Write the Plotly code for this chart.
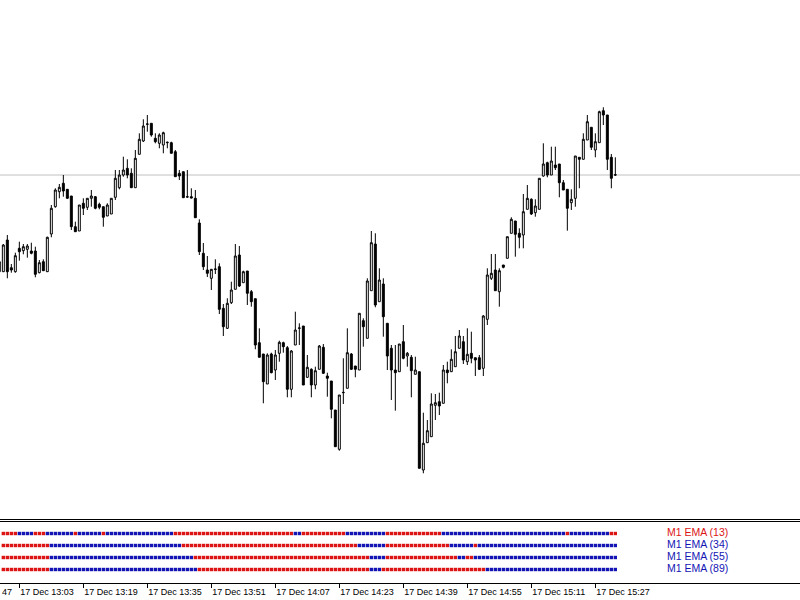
import pandas as pd
import plotly.graph_objects as go

# ---------------- data ----------------
first_bar = "2013-12-17 12:58"

open_ = [
    328.3, 328.3, 360, 332.3, 328.3, 351.7, 349.3, 350.7, 349, 349,
    327.3, 338.3, 328.3, 366, 393.3, 408.3, 416.7, 410.7, 404, 373.3,
    369, 396.7, 392.7, 401.7, 403.3, 395.7, 393.3, 384, 386, 402.7,
    412.3, 425, 431.7, 426.7, 412.3, 445.7, 459, 475.7, 476.7, 461.7,
    456.7, 455, 457.3, 457.3, 448.3, 426.7, 428.3, 403.3, 403.3, 401.7,
    377, 346.7, 330, 321.7, 330.5, 333.3, 291.7, 271.7, 297.3, 310.7,
    345, 317.3, 329, 308.3, 301.3, 257.3, 246, 216, 246, 230,
    246.7, 257.3, 252.3, 210.7, 255, 271.7, 274, 222.7, 230.7, 215,
    230.7, 252.7, 224, 219, 190, 150.7, 207.3, 211.7, 246, 234,
    230, 279.3, 261.7, 309.3, 356, 298.3, 316, 276.7, 251.7, 230,
    228.3, 258.3, 244, 242.7, 225.7, 228.3, 130, 157.3, 163.3, 194.7,
    198.3, 196.7, 230, 228.3, 233.3, 251.7, 258.3, 238.3, 246.7, 242.3,
    242.3, 231.7, 280.7, 321.7, 330, 308.3, 335, 341.7, 366.7, 379,
    366.7, 365, 390.7, 400.7, 387.3, 390.7, 424, 437.3, 425, 435,
    436, 417.3, 410.7, 397.3, 401.7, 442.7, 440.7, 460, 472.7, 450,
    457.3, 489.3, 485, 442.7, 425.3,
]
high = [
    340, 356, 365, 336, 347.3, 358.3, 356, 356, 357.3, 353.3,
    340, 340.7, 363.3, 395, 411.7, 416, 425, 411, 404, 378.3,
    395, 401.7, 401.7, 410, 404, 397.3, 393.3, 396.7, 401.7, 430,
    430, 443.3, 440.7, 431.7, 450, 466.7, 480.7, 485, 476.7, 466.7,
    466.7, 468.3, 458.3, 458.3, 450, 430, 428.3, 430, 411.7, 410,
    380.7, 357, 344, 331, 340.7, 336.7, 296, 301.7, 318.3, 356,
    354, 329.3, 329, 310, 301.3, 271.7, 246, 246.7, 247.3, 250,
    259.3, 258.3, 254, 250, 288.3, 276.7, 274, 245, 231.7, 233.3,
    255, 256, 227.3, 219, 190, 205, 241.7, 271.7, 247, 234,
    286.7, 281.7, 321.7, 369, 366.7, 331.7, 321.7, 276.7, 255, 255,
    256, 275, 248, 245, 243.3, 228.3, 187.3, 180, 206.7, 206,
    207.3, 235, 238.3, 250.7, 264, 270, 264, 271.7, 268.3, 242.3,
    245, 285, 331.7, 346, 346, 331.7, 335, 363.3, 382.7, 379,
    371.7, 406, 415, 401.7, 400.7, 421.7, 456.7, 438.3, 453.3, 453.3,
    436, 420, 410.7, 410.7, 444, 442.7, 466.7, 485, 472.7, 466.7,
    489.3, 492.7, 485, 446, 442.7,
]
low = [
    327, 328, 321.7, 327.3, 327.3, 339.3, 345.7, 342.3, 345.7, 322.7,
    326.7, 329, 328, 362.7, 392.3, 401.7, 403.3, 401, 370, 368,
    369, 385, 390, 393.3, 390.7, 390.7, 373.3, 384, 386, 400,
    410.7, 423.3, 421.7, 412.3, 412.3, 445.7, 458, 468.3, 463.3, 456.7,
    451.7, 446.7, 451.7, 446.7, 423.3, 420, 402.3, 402.3, 401.7, 382.3,
    345, 330, 323, 310, 326, 286, 264, 271, 296, 310.7,
    313, 317.3, 295, 293.3, 250.7, 242.7, 196.7, 216, 226.7, 220,
    238.3, 247.3, 202.7, 202.7, 255, 255, 215, 222, 202.7, 210.7,
    230.7, 226, 203.3, 181.7, 153.3, 149.3, 196, 211.7, 230, 222.7,
    230, 253.3, 261.7, 309.3, 292.7, 298.3, 263.3, 230, 200, 189.3,
    228.3, 240.7, 233.3, 202.7, 225.7, 131.7, 126.7, 157, 163, 180,
    185, 196.7, 216.7, 228, 233, 251.7, 236, 235, 236.7, 224,
    230, 224, 275, 320, 309.3, 293.3, 331.7, 341.7, 366.7, 343.3,
    351.7, 351.7, 390.7, 385, 383.3, 390.7, 423.3, 422.7, 425, 430,
    402.7, 410, 369.3, 390, 393.3, 411.7, 440.7, 460, 450, 442.7,
    457.3, 475, 430, 411.7, 424,
]
close = [
    338.3, 355, 328.3, 330, 344.3, 348.3, 353.3, 354, 346.7, 325.7,
    337.3, 329.3, 362.7, 391.7, 410, 412.7, 409, 401.7, 373.3, 368.3,
    395, 391.7, 401.7, 404, 391.7, 392.7, 382.7, 395, 401.7, 421.7,
    425, 430, 425, 412.3, 441.7, 460.7, 474, 476, 465, 458.3,
    465, 467.3, 457.7, 446.7, 423.3, 424, 402.3, 403, 402, 382.3,
    348.3, 333.3, 326.7, 330.7, 331, 290.7, 273.3, 296.7, 310, 344,
    314, 328.3, 306.7, 298.3, 255, 242.7, 218.3, 245, 227.3, 245,
    257.7, 253.3, 210.7, 249, 270, 272, 215, 232.7, 215, 229.3,
    254, 226.7, 221.7, 190.7, 153.3, 205, 207.6, 247.3, 230.7, 230.7,
    286.7, 273.3, 319, 357.3, 295, 320, 283.3, 244, 230, 227.3,
    256, 241.7, 246.7, 229.3, 230, 131.7, 156.7, 169.3, 196, 197.3,
    194, 230, 227.3, 240.7, 248.3, 264, 240, 245.7, 241.7, 240,
    230.7, 284, 325, 326.7, 309.3, 329.3, 332.7, 363.3, 380.7, 365.7,
    362.7, 388.3, 401.7, 386, 394, 421.7, 436, 425, 439, 432.3,
    417.3, 410, 391.7, 400.7, 444, 440.7, 460.7, 478.3, 452.7, 458.3,
    488.3, 485, 440.7, 421.7, 425,
]

# indicator rows: runs of (state, number of bars), r = red (down), b = blue (up)
ema_labels = ["M1 EMA (13)", "M1 EMA (34)", "M1 EMA (55)", "M1 EMA (89)"]
ema13_runs = [("r", 4), ("b", 4), ("r", 3), ("b", 7), ("r", 1), ("b", 6), ("r", 1),
              ("b", 17), ("r", 30), ("b", 2), ("r", 11), ("b", 10), ("r", 14),
              ("b", 31), ("r", 1), ("b", 10), ("r", 2)]
ema34_runs = [("r", 12), ("b", 33), ("r", 44), ("b", 7), ("r", 16), ("b", 6),
              ("r", 1), ("b", 35)]
ema55_runs = [("r", 12), ("b", 36), ("r", 44), ("b", 4), ("r", 18), ("b", 2),
              ("r", 2), ("b", 36)]
ema89_runs = [("r", 12), ("b", 37), ("r", 43), ("b", 3), ("r", 26), ("b", 33)]

tick_times = ["13:03", "13:19", "13:35", "13:51", "14:07", "14:23", "14:39",
              "14:55", "15:11", "15:27"]
cut_label = "47"   # visible tail of the previous time label "17 Dec 12:47"

# ---------------- styling ----------------
RED = "#DC1414"
BLUE = "#1414B4"
FONT = "Liberation Sans, Arial, sans-serif"
W, H = 800, 600

times = pd.date_range(first_bar, periods=len(open_), freq="min")
day = times[0].strftime("%Y-%m-%d")

fig = go.Figure()

fig.add_trace(go.Candlestick(
    x=times, open=open_, high=high, low=low, close=close,
    increasing=dict(line=dict(color="black", width=1), fillcolor="white"),
    decreasing=dict(line=dict(color="black", width=1), fillcolor="black"),
    whiskerwidth=0, hoverinfo="skip", showlegend=False,
    xaxis="x", yaxis="y",
))

all_runs = [ema13_runs, ema34_runs, ema55_runs, ema89_runs]
row_levels = [4, 3, 2, 1]
dot_times = times[1:]
for runs, lvl, name in zip(all_runs, row_levels, ema_labels):
    states = []
    for s, n in runs:
        states += [s] * n
    cols = [RED if s == "r" else BLUE for s in states]
    fig.add_trace(go.Scatter(
        x=dot_times[:len(cols)], y=[lvl] * len(cols), mode="markers",
        marker=dict(symbol="square", size=3.4, color=cols, line=dict(width=0)),
        hoverinfo="skip", showlegend=False, xaxis="x", yaxis="y2", name=name,
    ))
    fig.add_annotation(
        x=665 / W, xref="paper", xanchor="left",
        y=lvl, yref="y2", yanchor="middle", yshift=2,
        text=name, showarrow=False,
        font=dict(family=FONT, size=10.5, color=RED if states[-1] == "r" else BLUE),
    )

# partially visible previous time label at the left edge
fig.add_annotation(
    x=0, xref="paper", xanchor="left",
    y=1 - 592 / H, yref="paper", yanchor="middle",
    text=cut_label, showarrow=False,
    font=dict(family=FONT, size=9, color="black"),
)

t0 = times[0] + pd.Timedelta(seconds=10)
t1 = t0 + pd.Timedelta(minutes=200)

shapes = [
    dict(type="line", xref="paper", x0=0, x1=1, yref="y", y0=close[-1], y1=close[-1],
         line=dict(color="#C0C0C0", width=1), layer="below"),
    dict(type="line", xref="paper", x0=0, x1=1, yref="paper",
         y0=1 - 519.5 / H, y1=1 - 519.5 / H, line=dict(color="black", width=1)),
    dict(type="line", xref="paper", x0=0, x1=1, yref="paper",
         y0=1 - 521.5 / H, y1=1 - 521.5 / H, line=dict(color="black", width=1)),
]

fig.update_layout(
    width=W, height=H,
    margin=dict(l=0, r=0, t=0, b=0),
    paper_bgcolor="white", plot_bgcolor="white",
    showlegend=False,
    shapes=shapes,
    xaxis=dict(
        domain=[0, 1], anchor="y2", type="date",
        range=[t0, t1],
        rangeslider=dict(visible=False),
        showgrid=False, zeroline=False,
        showline=True, linecolor="black", linewidth=1,
        ticks="outside", ticklen=4, tickcolor="black", tickwidth=1,
        tickvals=[pd.Timestamp(f"{day} {t}") for t in tick_times],
        tickformat="%d %b %H:%M",
        ticklabelposition="outside right",
        tickfont=dict(family=FONT, size=9, color="black"),
        automargin=False,
    ),
    yaxis=dict(
        domain=[83 / H, 1], range=[83, 600],
        visible=False, showgrid=False, zeroline=False, fixedrange=True,
    ),
    yaxis2=dict(
        domain=[17 / H, 78 / H], range=[-0.125, 4.958],
        visible=False, showgrid=False, zeroline=False,
    ),
)

fig.write_html(
    "out.html",
    config={"displayModeBar": False},
    post_script="document.body.style.margin='0';document.body.style.overflow='hidden';",
)
